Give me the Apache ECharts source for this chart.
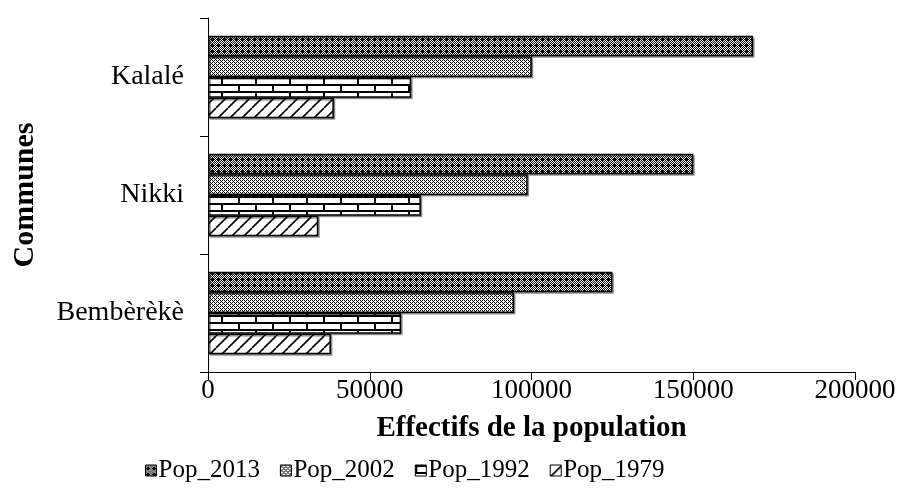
<!DOCTYPE html>
<html>
<head>
<meta charset="utf-8">
<script src="https://cdn.jsdelivr.net/npm/echarts@6/dist/echarts.min.js"></script>
<style>html,body{margin:0;padding:0;background:#fff}#c{width:906px;height:498px}</style>
</head>
<body>
<div id="c"></div>
<script>
// ---- data ----
const categories = ['Bembèrèkè', 'Nikki', 'Kalalé'];
const pop2013 = [125000, 150000, 168500];
const pop2002 = [94600, 98800, 100100];
const pop1992 = [59700, 65800, 62800];
const pop1979 = [38000, 34100, 38900];
const seriesNames = ['Pop_2013', 'Pop_2002', 'Pop_1992', 'Pop_1979'];
const xMin = 0, xMax = 200000, xStep = 50000;

// ---- patterns ----
function pixelTile(rows) {
  const h = rows.length, w = rows[0].length;
  const c = document.createElement('canvas'); c.width = w; c.height = h;
  const g = c.getContext('2d');
  g.fillStyle = '#fff'; g.fillRect(0, 0, w, h);
  g.fillStyle = '#000';
  for (let y = 0; y < h; y++) for (let x = 0; x < w; x++) if (rows[y][x] === 'B') g.fillRect(x, y, 1, 1);
  return c;
}
const pat2013 = pixelTile([
  'WBWBWB',
  'BWBWBW',
  'WBBBWB',
  'BBBBBW',
  'WBBBWB',
  'BWBWBW'
]);
const pat2002 = pixelTile([
  'BWBW',
  'WBWW',
  'BWBW',
  'WWWB'
]);
function brickTile() {
  const c = document.createElement('canvas'); c.width = 34; c.height = 14;
  const g = c.getContext('2d');
  g.fillStyle = '#fff'; g.fillRect(0, 0, 34, 14);
  g.fillStyle = '#000';
  g.fillRect(0, 0, 34, 2); g.fillRect(0, 7, 34, 2);
  g.fillRect(0, 0, 2, 7); g.fillRect(17, 7, 2, 7);
  return c;
}
function diagTile() {
  const s = 12;
  const c = document.createElement('canvas'); c.width = s; c.height = s;
  const g = c.getContext('2d');
  g.fillStyle = '#fff'; g.fillRect(0, 0, s, s);
  g.strokeStyle = '#000'; g.lineWidth = 1.6;
  for (const o of [-s, 0, s]) { g.beginPath(); g.moveTo(o, s); g.lineTo(o + s, 0); g.stroke(); }
  return c;
}
const pat1992 = brickTile();
const pat1979 = diagTile();

const FONT = "'Liberation Serif', 'Times New Roman', serif";
function barSeries(name, data, pat) {
  return {
    name: name, type: 'bar', data: data,
    barGap: '0%', barCategoryGap: '30%',
    itemStyle: {
      color: { image: pat, repeat: 'repeat' },
      borderColor: '#000', borderWidth: 1.5,
      shadowColor: 'rgba(0,0,0,0.35)', shadowOffsetX: 1.5, shadowOffsetY: 1.5, shadowBlur: 0
    },
    emphasis: { disabled: true }
  };
}

const chart = echarts.init(document.getElementById('c'), null, { renderer: 'canvas' });
chart.setOption({
  animation: false,
  textStyle: { fontFamily: FONT, color: '#000' },
  grid: { left: 208, right: 51, top: 18, bottom: 126, containLabel: false },
  xAxis: {
    type: 'value', min: xMin, max: xMax, interval: xStep,
    name: 'Effectifs de la population', nameLocation: 'middle', nameGap: 42,
    nameTextStyle: { fontFamily: FONT, fontSize: 29, fontWeight: 'bold', color: '#000' },
    axisLine: { show: true, lineStyle: { color: '#000', width: 1 } },
    axisTick: { show: true, length: 8, lineStyle: { color: '#000' } },
    axisLabel: { fontFamily: FONT, fontSize: 27, color: '#000', margin: 5, formatter: function (v) { return String(v); } },
    splitLine: { show: false }
  },
  yAxis: {
    type: 'category', data: categories,
    name: 'Communes', nameLocation: 'middle', nameGap: 168, nameRotate: 90,
    nameTextStyle: { fontFamily: FONT, fontSize: 30, fontWeight: 'bold', color: '#000' },
    axisLine: { show: true, lineStyle: { color: '#000', width: 1 } },
    axisTick: { show: true, length: 8, lineStyle: { color: '#000' } },
    axisLabel: { fontFamily: FONT, fontSize: 28, color: '#000', margin: 24 }
  },
  legend: {
    data: seriesNames, bottom: 10, left: 140,
    icon: 'rect', itemWidth: 11, itemHeight: 11, itemGap: 20,
    textStyle: { fontFamily: FONT, fontSize: 25, color: '#000', padding: [0, 0, 0, -3] },
    itemStyle: { borderColor: '#000', borderWidth: 1 }
  },
  series: [
    barSeries('Pop_2013', pop2013, pat2013),
    barSeries('Pop_2002', pop2002, pat2002),
    barSeries('Pop_1992', pop1992, pat1992),
    barSeries('Pop_1979', pop1979, pat1979)
  ]
});
</script>
</body>
</html>
